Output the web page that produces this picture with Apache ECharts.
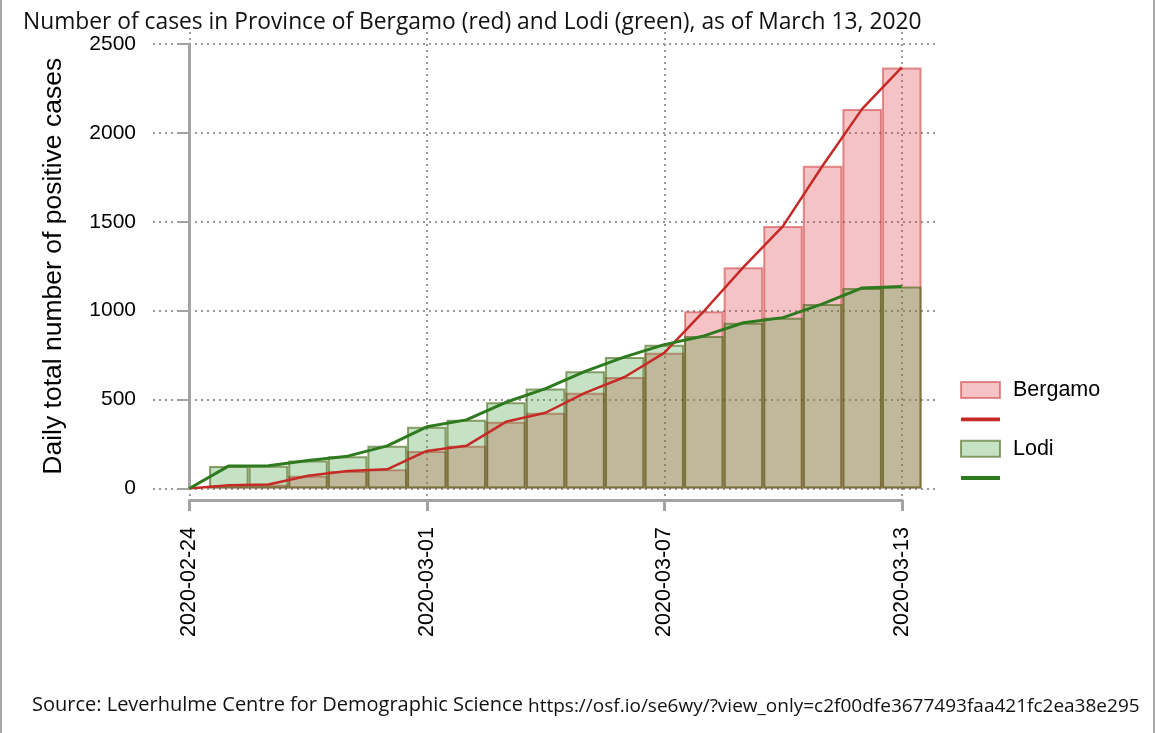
<!DOCTYPE html>
<html>
<head>
<meta charset="utf-8">
<script src="https://cdn.jsdelivr.net/npm/echarts@6/dist/echarts.min.js"></script>
<style>
  html, body { margin: 0; padding: 0; background: #fff; }
  #chart { width: 1155px; height: 733px; }
</style>
</head>
<body>
<div id="chart"></div>
<script>
const dates = ['2020-02-24','2020-02-25','2020-02-26','2020-02-27','2020-02-28','2020-02-29',
  '2020-03-01','2020-03-02','2020-03-03','2020-03-04','2020-03-05','2020-03-06',
  '2020-03-07','2020-03-08','2020-03-09','2020-03-10','2020-03-11','2020-03-12','2020-03-13'];
const bergamo = [0, 18, 22, 72, 98, 108, 211, 240, 375, 426, 538, 627, 763, 997, 1245, 1476, 1815, 2135, 2368];
const lodi = [0, 127, 128, 157, 182, 240, 347, 386, 485, 562, 659, 740, 809, 858, 932, 961, 1038, 1128, 1136];
const yTicks = [0, 500, 1000, 1500, 2000, 2500];
const xTickDates = ['2020-02-24', '2020-03-01', '2020-03-07', '2020-03-13'];

const titleText = 'Number of cases in Province of Bergamo (red) and Lodi (green), as of March 13, 2020';
const sourceText = 'Source: Leverhulme Centre for Demographic Science';
const urlText = 'https://osf.io/se6wy/?view_only=c2f00dfe3677493faa421fc2ea38e295';

const idx = d => dates.indexOf(d);
const toPairs = arr => arr.map((v, i) => [i, v]);
const toBars = arr => arr.map((v, i) => (v > 0 ? [i, v] : [i, '-']));

const chart = echarts.init(document.getElementById('chart'), null, { renderer: 'canvas' });

const FONT = 'Liberation Sans, Arial, sans-serif';
const GREY = '#a3a3a3';
const RED_LINE = '#c62a26';
const GREEN_LINE = '#2e7a1f';
const LINE_ICON = 'path://M0,0 L40,0 L40,4 L0,4 Z';

const option = {
  backgroundColor: '#ffffff',
  animation: false,
  title: {
    text: titleText,
    left: 18,
    top: 6,
    textStyle: { fontFamily: 'Open Sans', fontWeight: 'normal', fontSize: 22.8, color: '#111' }
  },
  legend: {
    orient: 'vertical',
    left: 955,
    top: 374,
    itemWidth: 39,
    itemHeight: 16,
    itemGap: 16.4,
    textStyle: { fontFamily: FONT, fontSize: 21.5, color: '#000', lineHeight: 16, padding: [0, 0, 0, 8] },
    formatter: n => (n.endsWith(' line') ? '' : n),
    data: [
      { name: 'Bergamo', icon: 'rect' },
      { name: 'Bergamo line', icon: LINE_ICON, itemStyle: { color: RED_LINE } },
      { name: 'Lodi', icon: 'rect' },
      { name: 'Lodi line', icon: LINE_ICON, itemStyle: { color: GREEN_LINE } }
    ]
  },
  grid: [
    { left: 153, right: 220, top: 44, bottom: 244.5 },
    { left: 189.3, right: 253, top: 32, bottom: 233 }
  ],
  xAxis: [
    {
      type: 'value', gridIndex: 0, min: -0.917, max: 18.84, show: false
    },
    {
      type: 'value', gridIndex: 1, position: 'bottom', offset: 5,
      min: idx(xTickDates[0]), max: idx(xTickDates[3]), interval: 6,
      axisLine: { show: true, lineStyle: { color: GREY, width: 3 } },
      axisTick: { show: true, inside: false, length: 11, lineStyle: { color: GREY, width: 3 } },
      axisLabel: {
        rotate: 90, margin: 22, color: '#000', fontFamily: FONT, fontSize: 21.5,
        formatter: v => dates[v]
      },
      splitLine: { show: true, lineStyle: { color: '#9a9a9a', width: 2, type: [2, 4] } }
    }
  ],
  yAxis: [
    {
      type: 'value', gridIndex: 0, min: yTicks[0], max: yTicks[yTicks.length - 1], interval: 500,
      name: 'Daily total number of positive cases',
      nameLocation: 'middle', nameGap: 86,
      nameTextStyle: { fontFamily: FONT, fontSize: 26.5, color: '#000' },
      axisLine: { show: true, lineStyle: { color: GREY, width: 3 } },
      axisTick: { show: true, inside: false, length: 11, lineStyle: { color: GREY, width: 2 } },
      axisLabel: { margin: 17, color: '#000', fontFamily: FONT, fontSize: 21, formatter: v => String(v) },
      splitLine: { show: true, lineStyle: { color: '#9a9a9a', width: 2, type: [2, 4] } }
    },
    { type: 'value', gridIndex: 1, min: 0, max: 1, show: false }
  ],
  graphic: [
    { type: 'line', shape: { x1: 1, y1: 0, x2: 1, y2: 733 }, style: { stroke: '#a8a8a8', lineWidth: 2 } },
    { type: 'line', shape: { x1: 1154, y1: 0, x2: 1154, y2: 733 }, style: { stroke: '#a8a8a8', lineWidth: 2 } },
    { type: 'text', left: 32, top: 695, style: { text: sourceText, font: '20px "Open Sans"', fill: '#111' } },
    { type: 'text', left: 528, top: 697, style: { text: urlText, font: '19px "Open Sans"', fill: '#111' } }
  ],
  series: [
    {
      name: 'Bergamo', type: 'bar', xAxisIndex: 0, yAxisIndex: 0,
      barWidth: 39.6, barGap: '-100%',
      itemStyle: { color: 'rgba(222,55,62,0.3)', borderColor: 'rgba(200,40,40,0.5)', borderWidth: 2 },
      data: toBars(bergamo)
    },
    {
      name: 'Bergamo line', type: 'line', xAxisIndex: 0, yAxisIndex: 0,
      symbol: 'none', lineStyle: { color: RED_LINE, width: 2.5 }, itemStyle: { color: RED_LINE },
      data: toPairs(bergamo)
    },
    {
      name: 'Lodi', type: 'bar', xAxisIndex: 0, yAxisIndex: 0,
      barWidth: 39.6, barGap: '-100%',
      itemStyle: { color: 'rgba(65,158,58,0.3)', borderColor: 'rgba(70,100,20,0.6)', borderWidth: 2 },
      data: toBars(lodi)
    },
    {
      name: 'Lodi line', type: 'line', xAxisIndex: 0, yAxisIndex: 0,
      symbol: 'none', lineStyle: { color: GREEN_LINE, width: 3 }, itemStyle: { color: GREEN_LINE },
      data: toPairs(lodi)
    }
  ]
};
chart.setOption(option);
</script>
</body>
</html>
